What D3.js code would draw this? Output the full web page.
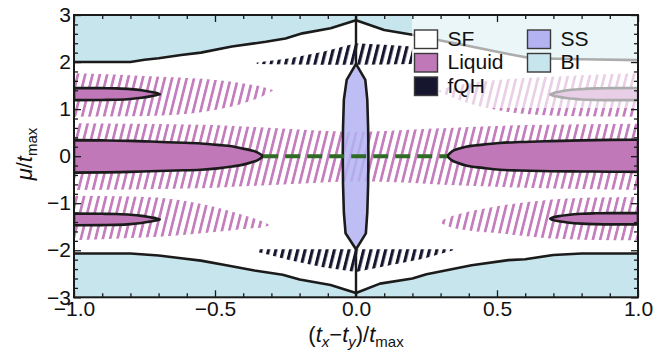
<!DOCTYPE html>
<html><head><meta charset="utf-8">
<script src="https://cdn.jsdelivr.net/npm/d3@7"></script>
<style>body{margin:0;background:#fff}svg{display:block}text{font-family:"Liberation Sans",Arial,Helvetica,sans-serif}</style>
</head><body><svg id="c" width="664" height="355"></svg>
<script>
// ---------- data ----------
const xTicksMajor = [-1, -0.5, 0, 0.5, 1];
const xTickLabels = ["\u22121.0", "\u22120.5", "0.0", "0.5", "1.0"];
const yTicksMajor = [-3, -2, -1, 0, 1, 2, 3];
const yTickLabels = ["\u22123", "\u22122", "\u22121", "0", "1", "2", "3"];

// BI boundaries [x, mu]
const biTopBoundary = [[-1,2.0],[-0.8,2.0],[-0.75,2.05],[-0.7,2.08],[-0.62,2.15],[-0.55,2.2],[-0.44,2.33],[-0.32,2.43],[-0.25,2.5],[-0.19,2.61],[-0.09,2.72],[0,2.89],[0.1,2.68],[0.2,2.58],[0.3,2.46],[0.4,2.34],[0.54,2.17],[0.62,2.08],[0.8,2.06],[1,2.04]];
const biBottomBoundary = [[-1,-2.07],[-0.8,-2.07],[-0.75,-2.09],[-0.7,-2.11],[-0.62,-2.17],[-0.55,-2.22],[-0.46,-2.32],[-0.36,-2.43],[-0.26,-2.52],[-0.2,-2.62],[-0.09,-2.74],[0,-2.91],[0.085,-2.71],[0.2,-2.6],[0.25,-2.51],[0.41,-2.32],[0.54,-2.21],[0.6,-2.19],[0.7,-2.1],[0.8,-2.07],[1,-2.07]];

// Liquid solid regions [x, lo, hi]
const liquidCenterLeft = [[-1,-0.35,0.34],[-0.9,-0.345,0.335],[-0.8,-0.335,0.325],[-0.73,-0.32,0.31],[-0.64,-0.305,0.29],[-0.55,-0.29,0.27],[-0.49,-0.26,0.24],[-0.44,-0.22,0.21],[-0.4,-0.18,0.16],[-0.37,-0.13,0.12],[-0.35,-0.09,0.08],[-0.329,0,0]];
const liquidCenterRight = [[0.323,0,0],[0.34,-0.09,0.1],[0.36,-0.14,0.15],[0.39,-0.2,0.2],[0.45,-0.25,0.245],[0.51,-0.29,0.28],[0.58,-0.305,0.3],[0.69,-0.32,0.32],[0.8,-0.325,0.335],[0.9,-0.33,0.345],[1,-0.335,0.35]];
const liquidUpperLeft = [[-1,1.19,1.45],[-0.9,1.195,1.445],[-0.85,1.2,1.44],[-0.8,1.215,1.425],[-0.76,1.24,1.4],[-0.73,1.27,1.37],[-0.71,1.295,1.345],[-0.696,1.315,1.315]];
const liquidLowerLeft = [[-1,-1.47,-1.22],[-0.9,-1.465,-1.225],[-0.85,-1.46,-1.23],[-0.8,-1.445,-1.245],[-0.76,-1.42,-1.27],[-0.73,-1.39,-1.3],[-0.71,-1.37,-1.32],[-0.696,-1.345,-1.345]];
const liquidUpperRight = [[0.689,1.31,1.31],[0.7,1.285,1.34],[0.72,1.26,1.37],[0.75,1.23,1.4],[0.8,1.205,1.425],[0.85,1.195,1.44],[0.9,1.19,1.445],[1,1.19,1.45]];
const liquidLowerRight = [[0.689,-1.33,-1.33],[0.7,-1.36,-1.3],[0.72,-1.385,-1.275],[0.75,-1.41,-1.25],[0.8,-1.435,-1.225],[0.85,-1.445,-1.215],[0.9,-1.45,-1.21],[1,-1.45,-1.21]];

// Liquid hatched regions [x, lo, hi]
const hatchCenter = [[-1,-0.72,0.7],[-0.8,-0.71,0.69],[-0.6,-0.69,0.675],[-0.5,-0.67,0.66],[-0.4,-0.64,0.63],[-0.26,-0.6,0.59],[-0.12,-0.56,0.54],[0,-0.54,0.52],[0.12,-0.55,0.54],[0.26,-0.59,0.58],[0.4,-0.63,0.62],[0.6,-0.67,0.66],[0.8,-0.7,0.68],[1,-0.72,0.69]];
const hatchUpperLeft = [[-1,0.84,1.76],[-0.8,0.85,1.72],[-0.67,0.87,1.68],[-0.5,0.98,1.62],[-0.38,1.16,1.53],[-0.33,1.28,1.47],[-0.293,1.4,1.4]];
const hatchLowerLeft = [[-1,-1.79,-0.84],[-0.8,-1.74,-0.86],[-0.67,-1.7,-0.9],[-0.5,-1.61,-1.08],[-0.38,-1.54,-1.29],[-0.33,-1.51,-1.39],[-0.305,-1.47,-1.47]];
const hatchUpperRight = [[0.29,1.38,1.38],[0.33,1.28,1.47],[0.38,1.16,1.53],[0.5,0.98,1.62],[0.67,0.87,1.68],[0.8,0.85,1.72],[1,0.84,1.76]];
const hatchLowerRight = [[0.293,-1.4,-1.4],[0.33,-1.5,-1.3],[0.387,-1.57,-1.2],[0.506,-1.64,-1.06],[0.695,-1.75,-0.92],[0.85,-1.78,-0.88],[1,-1.79,-0.87]];

// fQH hatched regions [x, lo, hi]
const fqhTop = [[-0.352,1.96,1.99],[-0.234,1.95,2.08],[-0.117,1.94,2.22],[0,1.94,2.4],[0.1,1.95,2.37],[0.2,1.96,2.33]];
const fqhBottom = [[-0.352,-2.03,-1.98],[-0.234,-2.21,-1.98],[-0.117,-2.36,-1.98],[0,-2.46,-1.98],[0.12,-2.32,-1.98],[0.238,-2.18,-1.98],[0.345,-2.0,-1.98]];

// SS region outline [x, mu]
const ssShape = [[0,1.96],[0.033,1.62],[0.04,1.2],[0.043,0.6],[0.044,0],[0.043,-0.6],[0.04,-1.2],[0.035,-1.64],[0,-1.98],[-0.037,-1.64],[-0.043,-1.2],[-0.046,-0.6],[-0.047,0],[-0.046,0.6],[-0.043,1.2],[-0.033,1.62]];

// green dashed line and center vertical line
const dashedLine = [[-0.329,0],[0.323,0]];
const centerLineTop = [[0,3],[0,1.96]];
const centerLineBottom = [[0,-1.98],[0,-3]];

// legend
const legendLabels = ["SF","Liquid","fQH","SS","BI"];
const legendColors = ["#ffffff","#c078b9","#17162f","#b4b3f2","#c6e5ec"];

// ---------- drawing ----------
const C = {bi:"#c6e5ec", liq:"#c078b9", hatch:"#c47dbd", fqh:"#17162f", ss:"#b4b3f2", line:"#1b1b1b", green:"#2f6a26"};
const svg = d3.select("#c");
const x = d3.scaleLinear().domain([-1,1]).range([74,638]);
const y = d3.scaleLinear().domain([-3,3]).range([297.3,15]);

const defs = svg.append("defs");
defs.append("clipPath").attr("id","plotclip").append("rect")
  .attr("x",x(-1)).attr("y",y(3)).attr("width",x(1)-x(-1)).attr("height",y(-3)-y(3));
function hatchPattern(id, color, w, lw, ang){
  const p = defs.append("pattern").attr("id",id).attr("patternUnits","userSpaceOnUse")
    .attr("width",w).attr("height",20).attr("patternTransform",`rotate(${ang})`);
  p.append("rect").attr("x",0).attr("y",0).attr("width",lw).attr("height",20).attr("fill",color);
}
hatchPattern("hp", C.hatch, 7.1, 2.7, 14);
hatchPattern("hq", C.fqh, 7.1, 3.1, 14);

const g = svg.append("g").attr("clip-path","url(#plotclip)");
const areaSmooth = d3.area().x(d=>x(d[0])).y0(d=>y(d[1])).y1(d=>y(d[2])).curve(d3.curveMonotoneX);
const areaLin = d3.area().x(d=>x(d[0])).y0(d=>y(d[1])).y1(d=>y(d[2])).curve(d3.curveLinear);
const line = d3.line().x(d=>x(d[0])).y(d=>y(d[1]));

// BI fills
g.append("path").attr("d", d3.area().x(d=>x(d[0])).y0(y(3)).y1(d=>y(d[1]))(biTopBoundary)).attr("fill",C.bi);
g.append("path").attr("d", d3.area().x(d=>x(d[0])).y0(y(-3)).y1(d=>y(d[1]))(biBottomBoundary)).attr("fill",C.bi);

// Liquid hatch
[hatchCenter,hatchUpperLeft,hatchLowerLeft,hatchUpperRight,hatchLowerRight].forEach(d=>{
  g.append("path").attr("d",areaSmooth(d)).attr("fill","url(#hp)");
});
// fQH hatch
[fqhTop,fqhBottom].forEach(d=>{
  g.append("path").attr("d",areaLin(d)).attr("fill","url(#hq)");
});
// Liquid solids
[liquidCenterLeft,liquidCenterRight,liquidUpperLeft,liquidLowerLeft,liquidUpperRight,liquidLowerRight].forEach(d=>{
  g.append("path").attr("d",areaSmooth(d)).attr("fill",C.liq).attr("stroke",C.line).attr("stroke-width",2.6).attr("stroke-linejoin","round");
});
// SS
g.append("path").attr("d",line.curve(d3.curveLinearClosed)(ssShape)).attr("fill",C.ss).attr("fill-opacity",0.85)
  .attr("stroke",C.line).attr("stroke-width",2.6).attr("stroke-linejoin","round");
line.curve(d3.curveLinear);
// BI boundary lines
[biTopBoundary,biBottomBoundary].forEach(d=>{
  g.append("path").attr("d",line(d)).attr("fill","none").attr("stroke",C.line).attr("stroke-width",2.6).attr("stroke-linejoin","round");
});
// center vertical line
[centerLineTop,centerLineBottom].forEach(d=>{
  g.append("path").attr("d",line(d)).attr("fill","none").attr("stroke",C.line).attr("stroke-width",2.4);
});
// dashed green
g.append("path").attr("d",line(dashedLine)).attr("fill","none").attr("stroke",C.green).attr("stroke-width",4).attr("stroke-dasharray","15 7");

// legend
const lg = svg.append("g");
lg.append("rect").attr("x",412).attr("y",y(3)).attr("width",x(1)-412).attr("height",108-y(3)).attr("fill","#fff").attr("fill-opacity",0.64);
const legPos = [[414.5,30],[414.5,53.5],[414.5,77],[527.5,30],[527.5,53.5]];
legendLabels.forEach((lab,i)=>{
  const [lx,ly] = legPos[i];
  lg.append("rect").attr("x",lx).attr("y",ly).attr("width",23).attr("height",18.5).attr("fill",legendColors[i]).attr("stroke","#3a3a3a").attr("stroke-width",1.4);
  lg.append("text").attr("x",lx+33).attr("y",ly+15.5).attr("font-size",21).attr("fill","#111").text(lab);
});

// axes
const majLen = 7, minLen = 4;
function styleAxis(sel){ sel.select(".domain").remove(); sel.selectAll("line").attr("stroke","#1a1a1a").attr("stroke-width",1.3); sel.selectAll("text").attr("font-size",21).attr("fill","#111").attr("font-family","Liberation Sans, Arial, sans-serif"); }
const xMinorTicks = x.ticks(20).filter(v=>!xTicksMajor.some(m=>Math.abs(m-v)<1e-9));
const yMinorTicks = y.ticks(30).filter(v=>!yTicksMajor.some(m=>Math.abs(m-v)<1e-9));
svg.append("g").attr("transform",`translate(0,${y(-3)})`).call(d3.axisBottom(x).tickValues(xTicksMajor).tickFormat((d,i)=>xTickLabels[i]).tickSizeInner(-majLen).tickSizeOuter(0).tickPadding(4)).call(styleAxis);
svg.append("g").attr("transform",`translate(0,${y(-3)})`).call(d3.axisBottom(x).tickValues(xMinorTicks).tickFormat("").tickSizeInner(-minLen).tickSizeOuter(0)).call(styleAxis);
svg.append("g").attr("transform",`translate(0,${y(3)})`).call(d3.axisTop(x).tickValues(xTicksMajor).tickFormat("").tickSizeInner(-majLen).tickSizeOuter(0)).call(styleAxis);
svg.append("g").attr("transform",`translate(0,${y(3)})`).call(d3.axisTop(x).tickValues(xMinorTicks).tickFormat("").tickSizeInner(-minLen).tickSizeOuter(0)).call(styleAxis);
svg.append("g").attr("transform",`translate(${x(-1)},0)`).call(d3.axisLeft(y).tickValues(yTicksMajor).tickFormat((d,i)=>yTickLabels[i]).tickSizeInner(-majLen).tickSizeOuter(0).tickPadding(3)).call(styleAxis);
svg.append("g").attr("transform",`translate(${x(-1)},0)`).call(d3.axisLeft(y).tickValues(yMinorTicks).tickFormat("").tickSizeInner(-minLen).tickSizeOuter(0)).call(styleAxis);
svg.append("g").attr("transform",`translate(${x(1)},0)`).call(d3.axisRight(y).tickValues(yTicksMajor).tickFormat("").tickSizeInner(-majLen).tickSizeOuter(0)).call(styleAxis);
svg.append("g").attr("transform",`translate(${x(1)},0)`).call(d3.axisRight(y).tickValues(yMinorTicks).tickFormat("").tickSizeInner(-minLen).tickSizeOuter(0)).call(styleAxis);
// frame
svg.append("rect").attr("x",x(-1)).attr("y",y(3)).attr("width",x(1)-x(-1)).attr("height",y(-3)-y(3)).attr("fill","none").attr("stroke","#1a1a1a").attr("stroke-width",2);

// axis labels
const xl = svg.append("text").attr("x",356).attr("y",342).attr("text-anchor","middle").attr("font-size",22).attr("fill","#111");
xl.append("tspan").text("(");
xl.append("tspan").attr("font-style","italic").text("t");
xl.append("tspan").attr("font-style","italic").attr("font-size",15).attr("dy",5).text("x");
xl.append("tspan").attr("dy",-5).text("\u2212");
xl.append("tspan").attr("font-style","italic").text("t");
xl.append("tspan").attr("font-style","italic").attr("font-size",15).attr("dy",5).text("y");
xl.append("tspan").attr("dy",-5).text(")/");
xl.append("tspan").attr("font-style","italic").text("t");
xl.append("tspan").attr("font-size",15).attr("dy",5).text("max");

const yl = svg.append("text").attr("transform","translate(32,154) rotate(-90)").attr("text-anchor","middle").attr("font-size",22).attr("fill","#111");
yl.append("tspan").attr("font-style","italic").text("\u03bc");
yl.append("tspan").text("/");
yl.append("tspan").attr("font-style","italic").text("t");
yl.append("tspan").attr("font-size",15).attr("dy",5).text("max");
</script></body></html>
